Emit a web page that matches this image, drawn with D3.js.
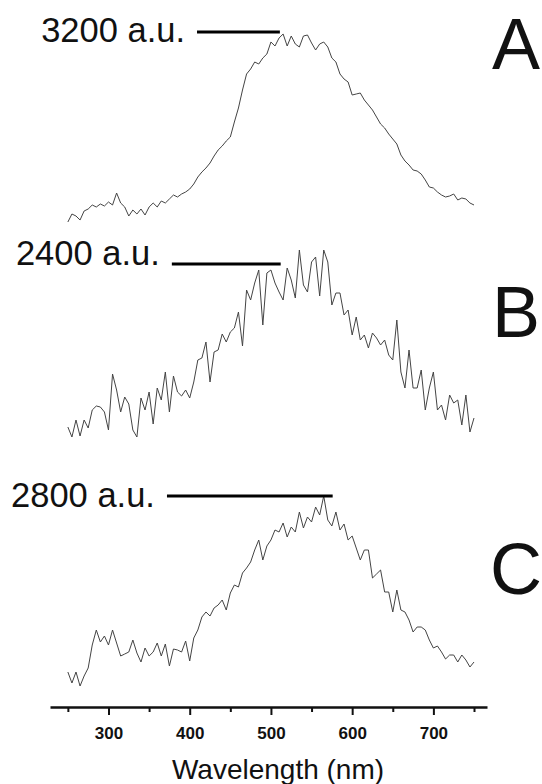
<!DOCTYPE html>
<html>
<head>
<meta charset="utf-8">
<script src="https://cdn.jsdelivr.net/npm/d3@7"></script>
<style>
  body { margin: 0; background: #fff; }
  svg { display: block; font-family: "Liberation Sans", Arial, sans-serif; }
</style>
</head>
<body>
<div id="chart"></div>
<script>
// wavelength grid (nm), one reading every 5 nm
const wavelengths = d3.range(250, 751, 5);

// spectrum A, a.u.
const spectrumA = [
  160, 288, 256, 192, 336, 368, 432, 400, 448, 416,
  480, 432, 624, 464, 400, 256, 352, 288, 368, 272,
  400, 464, 400, 496, 464, 528, 592, 560, 608, 640,
  688, 768, 880, 960, 1024, 1104, 1216, 1312, 1376, 1456,
  1520, 1760, 1984, 2272, 2528, 2608, 2720, 2688, 2784, 2848,
  3040, 2976, 3104, 3168, 2976, 3136, 3008, 2960, 3136, 3152,
  3024, 2912, 3008, 3040, 2960, 2784, 2720, 2528, 2448, 2400,
  2192, 2208, 2224, 2112, 2032, 1952, 1840, 1728, 1664, 1568,
  1488, 1408, 1232, 1136, 1072, 992, 976, 928, 832, 720,
  704, 640, 592, 560, 576, 608, 512, 544, 528, 464,
  432
];

// spectrum B, a.u.
const spectrumB = [
  444, 324, 528, 336, 528, 432, 648, 696, 684, 624,
  408, 1080, 888, 624, 804, 720, 408, 324, 792, 648,
  864, 480, 912, 768, 1104, 624, 1056, 864, 816, 888,
  792, 984, 1248, 1272, 1464, 984, 1344, 1368, 1560, 1464,
  1584, 1632, 1824, 1416, 2088, 1968, 2172, 2328, 1668, 2292,
  2328, 2172, 2064, 1968, 2352, 2208, 1992, 2568, 2148, 2064,
  2424, 2484, 2016, 2568, 2424, 1908, 2052, 2052, 1788, 1848,
  1548, 1764, 1488, 1548, 1392, 1572, 1512, 1428, 1488, 1308,
  1248, 1728, 1104, 912, 1368, 912, 912, 1128, 648, 912,
  1104, 648, 708, 528, 828, 732, 768, 468, 828, 384,
  552
];

// spectrum C, a.u.
const spectrumC = [
  336, 182, 336, 140, 280, 392, 714, 924, 756, 840,
  714, 924, 742, 560, 588, 616, 784, 602, 476, 672,
  560, 616, 742, 560, 728, 420, 658, 644, 616, 770,
  490, 812, 924, 1106, 1176, 1120, 1232, 1274, 1344, 1204,
  1442, 1554, 1526, 1722, 1792, 1876, 2044, 2184, 1904, 2100,
  2184, 2324, 2296, 2422, 2226, 2366, 2296, 2576, 2352, 2506,
  2436, 2646, 2534, 2800, 2464, 2380, 2576, 2324, 2408, 2184,
  2240, 2072, 1904, 2044, 2044, 1652, 1708, 1764, 1456, 1456,
  1176, 1484, 1204, 1176, 1064, 896, 966, 966, 924, 784,
  672, 700, 616, 518, 574, 574, 476, 574, 504, 406,
  476
];

const panelNames = ['A', 'B', 'C'];
const scaleValues = [3200, 2400, 2800];
const scaleLabels = ['3200 a.u.', '2400 a.u.', '2800 a.u.'];
const scaleBarNm = [[409, 511], [378, 512], [372, 576]];
const majorTicks = [300, 400, 500, 600, 700];
const minorTicks = [250, 350, 450, 550, 650, 750];
const xTitle = 'Wavelength (nm)';

const width = 542, height = 784;
const axisY = 707;

// each panel: pixel of 0 a.u. and pixel of the scale value
const panels = [
  { data: spectrumA, zeroY: 232, topY: 32, labelDy: 10, letterY: 69 },
  { data: spectrumB, zeroY: 464, topY: 264, labelDy: 1, letterY: 337 },
  { data: spectrumC, zeroY: 696, topY: 496, labelDy: 11, letterY: 594 }
];

const svg = d3.select('#chart')
  .append('svg')
  .attr('width', width)
  .attr('height', height);

const x = d3.scaleLinear().domain([228, 766]).range([50, 487]);

panels.forEach((p, i) => {
  const y = d3.scaleLinear()
    .domain([0, scaleValues[i]])
    .range([p.zeroY, p.topY]);

  const line = d3.line()
    .x((d, k) => x(wavelengths[k]))
    .y(d => y(d));

  svg.append('path')
    .datum(p.data)
    .attr('d', line)
    .attr('fill', 'none')
    .attr('stroke', '#444')
    .attr('stroke-width', 1)
    .attr('stroke-linejoin', 'round');

  // intensity marker
  svg.append('line')
    .attr('x1', x(scaleBarNm[i][0]))
    .attr('x2', x(scaleBarNm[i][1]))
    .attr('y1', y(scaleValues[i]))
    .attr('y2', y(scaleValues[i]))
    .attr('stroke', '#000')
    .attr('stroke-width', 3);

  svg.append('text')
    .attr('x', x(scaleBarNm[i][0]) - 12)
    .attr('y', y(scaleValues[i]) + p.labelDy)
    .attr('text-anchor', 'end')
    .attr('font-size', 34.5)
    .attr('fill', '#111')
    .text(scaleLabels[i]);

  svg.append('text')
    .attr('x', 516)
    .attr('y', p.letterY)
    .attr('text-anchor', 'middle')
    .attr('font-size', 72)
    .attr('fill', '#111')
    .text(panelNames[i]);
});

// x axis
const gMinor = svg.append('g')
  .attr('transform', 'translate(0,' + axisY + ')')
  .call(d3.axisBottom(x).tickValues(minorTicks).tickSize(5).tickSizeOuter(0).tickFormat(''));
gMinor.select('.domain').remove();
gMinor.selectAll('line').attr('stroke', '#111').attr('stroke-width', 2);

const gMajor = svg.append('g')
  .attr('transform', 'translate(0,' + axisY + ')')
  .call(d3.axisBottom(x).tickValues(majorTicks).tickSize(8).tickSizeOuter(0));
gMajor.select('.domain').attr('stroke', '#111').attr('stroke-width', 2.5);
gMajor.selectAll('line').attr('stroke', '#111').attr('stroke-width', 2);
gMajor.selectAll('text')
  .attr('y', 20)
  .attr('font-size', 17)
  .attr('font-weight', 'bold')
  .attr('font-family', '"Liberation Sans", Arial, sans-serif')
  .attr('fill', '#111');

svg.append('text')
  .attr('x', 278)
  .attr('y', 779)
  .attr('text-anchor', 'middle')
  .attr('font-size', 28)
  .attr('fill', '#111')
  .text(xTitle);
</script>
</body>
</html>
